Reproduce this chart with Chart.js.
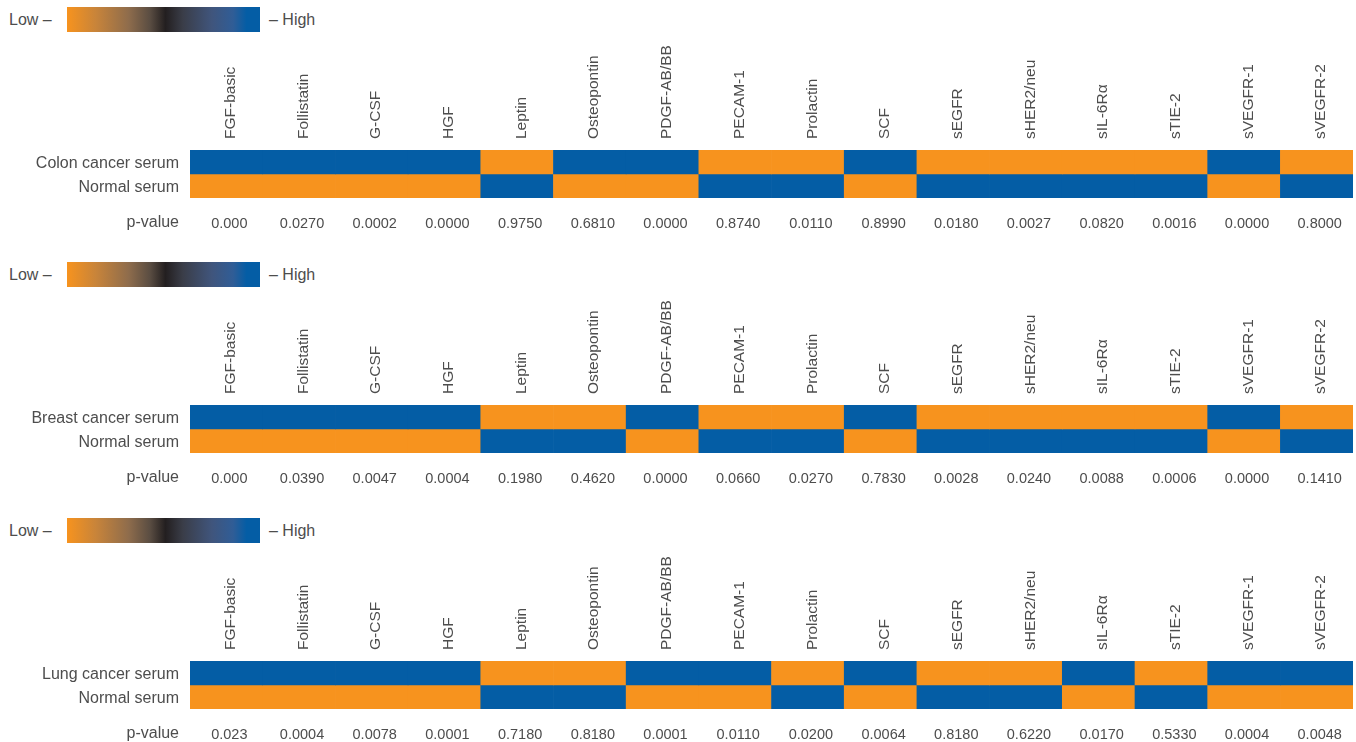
<!DOCTYPE html>
<html><head><meta charset="utf-8">
<script src="https://cdn.jsdelivr.net/npm/chart.js@4"></script>
<style>
html,body{margin:0;padding:0;background:#fff;overflow:hidden;}
body{width:1356px;height:742px;position:relative;font-family:'Liberation Sans',Arial,sans-serif;color:#4d4d4d;}
.panel{position:absolute;left:0;width:1356px;height:250px;}
.lg{position:absolute;font-size:16px;line-height:25px;top:7px;white-space:nowrap;}
.grad{position:absolute;left:67px;top:7px;width:193px;height:25px;
 background:linear-gradient(to right,#F7931E 0%,#C8843A 15%,#8E6C4C 32%,#5A4D42 43%,#231F20 51%,#3A3D48 60%,#40557C 75%,#305D96 86%,#045DA5 93%,#045DA5 100%);}
canvas{position:absolute;left:0;top:40px;}
</style></head>
<body>
<div class="panel" id="p0" style="top:0px"></div>
<div class="panel" id="p1" style="top:255px"></div>
<div class="panel" id="p2" style="top:511px"></div>
<script>
// ---- data ----
const markers = ['FGF-basic','Follistatin','G-CSF','HGF','Leptin','Osteopontin','PDGF-AB/BB','PECAM-1','Prolactin','SCF','sEGFR','sHER2/neu','sIL-6R\u03B1','sTIE-2','sVEGFR-1','sVEGFR-2'];
const cancerTypes = ['Colon cancer serum','Breast cancer serum','Lung cancer serum'];
const normalLabel = 'Normal serum';
// 1 = cancer serum level high (blue), 0 = low (orange); normal serum is the opposite
const colonHigh  = [1,1,1,1,0,1,1,0,0,1,0,0,0,0,1,0];
const breastHigh = [1,1,1,1,0,0,1,0,0,1,0,0,0,0,1,0];
const lungHigh   = [1,1,1,1,0,0,1,1,0,1,0,0,1,0,1,1];
const colonP  = ['0.000','0.0270','0.0002','0.0000','0.9750','0.6810','0.0000','0.8740','0.0110','0.8990','0.0180','0.0027','0.0820','0.0016','0.0000','0.8000'];
const breastP = ['0.000','0.0390','0.0047','0.0004','0.1980','0.4620','0.0000','0.0660','0.0270','0.7830','0.0028','0.0240','0.0088','0.0006','0.0000','0.1410'];
const lungP   = ['0.023','0.0004','0.0078','0.0001','0.7180','0.8180','0.0001','0.0110','0.0200','0.0064','0.8180','0.6220','0.0170','0.5330','0.0004','0.0048'];

const BLUE = '#045DA5', ORANGE = '#F7931E', TXT = '#4d4d4d';
const FONT = "'Liberation Sans', Arial, sans-serif";
Chart.defaults.font.family = FONT;
Chart.defaults.color = TXT;

const panels = [
  {id:'p0', name:cancerTypes[0], high:colonHigh, p:colonP},
  {id:'p1', name:cancerTypes[1], high:breastHigh, p:breastP},
  {id:'p2', name:cancerTypes[2], high:lungHigh, p:lungP}
];

panels.forEach(pn => {
  const div = document.getElementById(pn.id);
  div.innerHTML = '<span class="lg" style="left:9px">Low \u2013</span><div class="grad"></div><span class="lg" style="left:269px">\u2013 High</span>';
  const cv = document.createElement('canvas');
  cv.width = 1356; cv.height = 198;
  div.appendChild(cv);
  const rowLabels = [pn.name, normalLabel, 'p-value'];
  new Chart(cv, {
    type: 'bar',
    data: {
      labels: markers,
      datasets: [
        { label: pn.name, data: markers.map(() => [0, 1]),
          backgroundColor: pn.high.map(v => v ? BLUE : ORANGE),
          grouped: false, barPercentage: 1, categoryPercentage: 1, borderWidth: 0 },
        { label: normalLabel, data: markers.map(() => [1, 2]),
          backgroundColor: pn.high.map(v => v ? ORANGE : BLUE),
          grouped: false, barPercentage: 1, categoryPercentage: 1, borderWidth: 0 }
      ]
    },
    options: {
      responsive: false, animation: false,
      layout: { padding: 0 },
      plugins: { legend: { display: false }, tooltip: { enabled: false } },
      scales: {
        x: {
          type: 'category', position: 'top', offset: true,
          grid: { display: false, drawTicks: false }, border: { display: false },
          ticks: { autoSkip: false, minRotation: 90, maxRotation: 90, padding: 11, labelOffset: 23,
                   font: { size: 15.5 }, color: TXT },
          afterFit: s => { s.height = 110; }
        },
        xp: {
          type: 'category', position: 'bottom', offset: true, labels: pn.p,
          grid: { display: false, drawTicks: false }, border: { display: false },
          ticks: { autoSkip: false, maxRotation: 0, padding: 17, labelOffset: 3, font: { size: 14.5 }, color: TXT },
          afterFit: s => { s.height = 40; }
        },
        y: {
          type: 'linear', min: 0, max: 2, reverse: true,
          grid: { display: false, drawTicks: false }, border: { display: false },
          afterBuildTicks: s => { s.ticks = [{value:0.5},{value:1.5},{value:2.98}]; },
          ticks: { autoSkip: false, padding: 11, labelOffset: 1.5, font: { size: 16 }, color: TXT,
                   callback: (v, i) => rowLabels[i] },
          afterFit: s => { s.width = 190; }
        }
      }
    }
  });
});
</script>
</body></html>
